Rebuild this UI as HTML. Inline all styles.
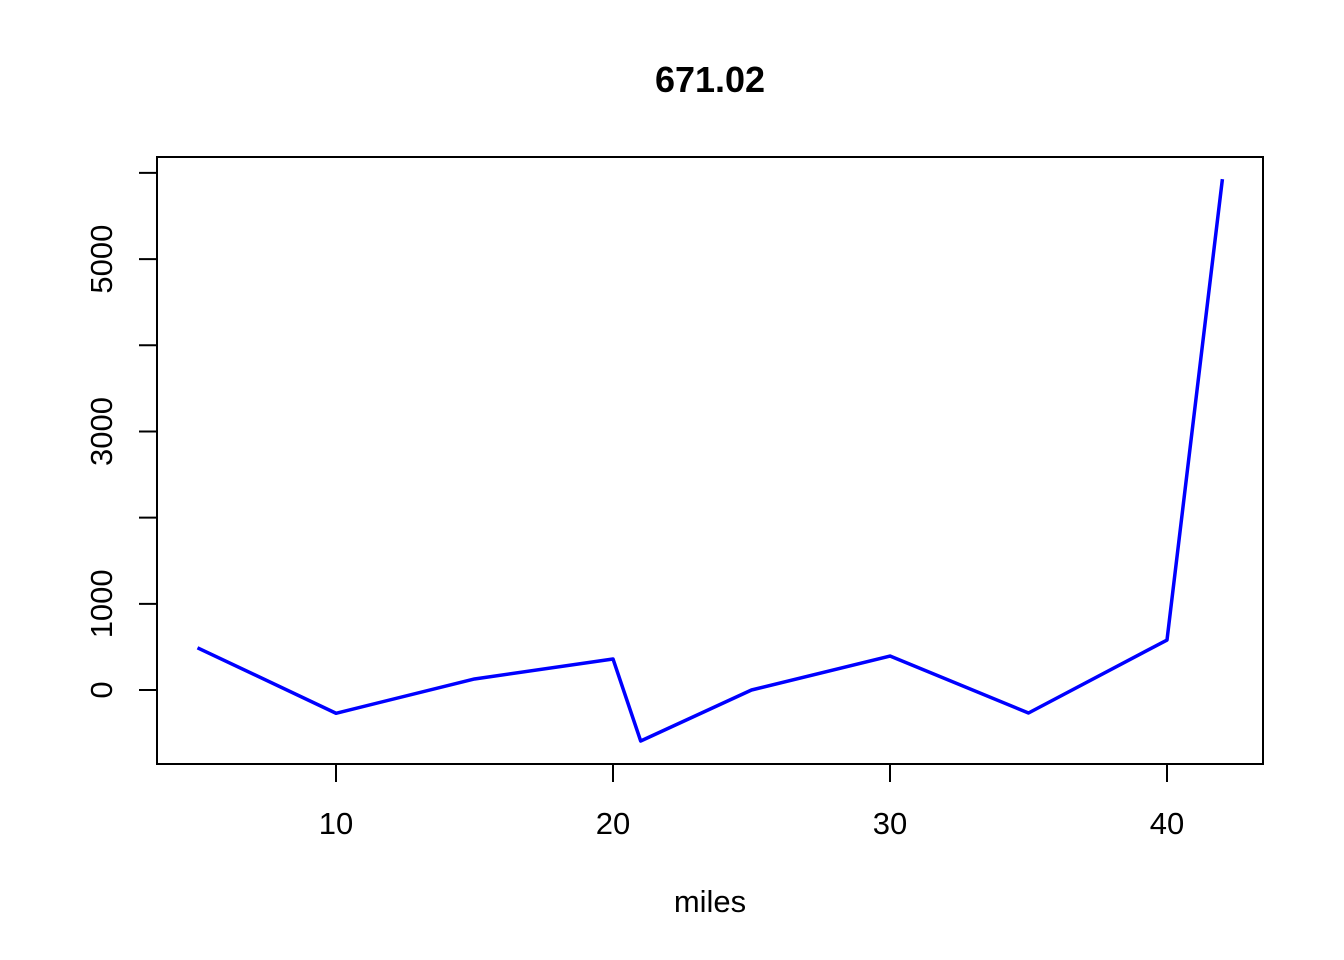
<!DOCTYPE html>
<html><head><meta charset="utf-8"><style>
html,body{margin:0;padding:0;background:#fff;}
svg{display:block;font-family:"Liberation Sans",Arial,sans-serif;}
</style></head><body>
<svg id="chart" width="1344" height="960" viewBox="0 0 1344 960">
<text x="710" y="92" text-anchor="middle" font-size="36" font-weight="bold">671.02</text>
<rect x="157" y="157" width="1106" height="607" fill="none" stroke="#000" stroke-width="2"/>
<text x="710" y="912" text-anchor="middle" font-size="31">miles</text>
<g id="xaxis"></g>
<g id="yaxis"></g>
<polyline id="line" fill="none" stroke="#0000ff" stroke-width="3.5" stroke-linejoin="round"/>
</svg>
<script>
const xValues=[5,10,15,20,21,25,30,35,40,42];
const yValues=[490,-270,128,360,-592,0,394,-267,580,5928];
const xTicks=[10,20,30,40];
const yTicks=[0,1000,2000,3000,4000,5000,6000];
const yTickLabels=["0","1000","","3000","","5000",""];
const sx=v=>336+(v-10)*27.7;
const sy=v=>690-v*0.08618;
const NS="http://www.w3.org/2000/svg";
const xa=document.getElementById('xaxis'), ya=document.getElementById('yaxis');
function mk(tag,attrs,parent){const e=document.createElementNS(NS,tag);for(const k in attrs)e.setAttribute(k,attrs[k]);parent.appendChild(e);return e;}
mk('line',{x1:sx(xTicks[0]),x2:sx(xTicks[xTicks.length-1]),y1:764,y2:764,stroke:'#000','stroke-width':2},xa);
xTicks.forEach(t=>{
  const l=mk('line',{x1:sx(t),x2:sx(t),y1:764,y2:782,stroke:'#000','stroke-width':2},xa);
  
  
  const tx=mk('text',{x:sx(t),y:834,'text-anchor':'middle','font-size':31},xa);
  tx.textContent=t;
  
  
});
mk('line',{x1:157,x2:157,y1:sy(yTicks[0]),y2:sy(yTicks[yTicks.length-1]),stroke:'#000','stroke-width':2},ya);
yTicks.forEach((t,i)=>{
  const l=mk('line',{x1:139,x2:157,y1:sy(t),y2:sy(t),stroke:'#000','stroke-width':2},ya);
  
  
  if(yTickLabels[i]){
    const y=sy(t);
    const tx=mk('text',{x:112,y:y,'text-anchor':'middle','font-size':31,transform:`rotate(-90 112 ${y})`},ya);
    tx.textContent=yTickLabels[i];
    
    
  }
});
document.getElementById('line').setAttribute('points',xValues.map((x,i)=>sx(x)+','+sy(yValues[i])).join(' '));
</script>
</body></html>
